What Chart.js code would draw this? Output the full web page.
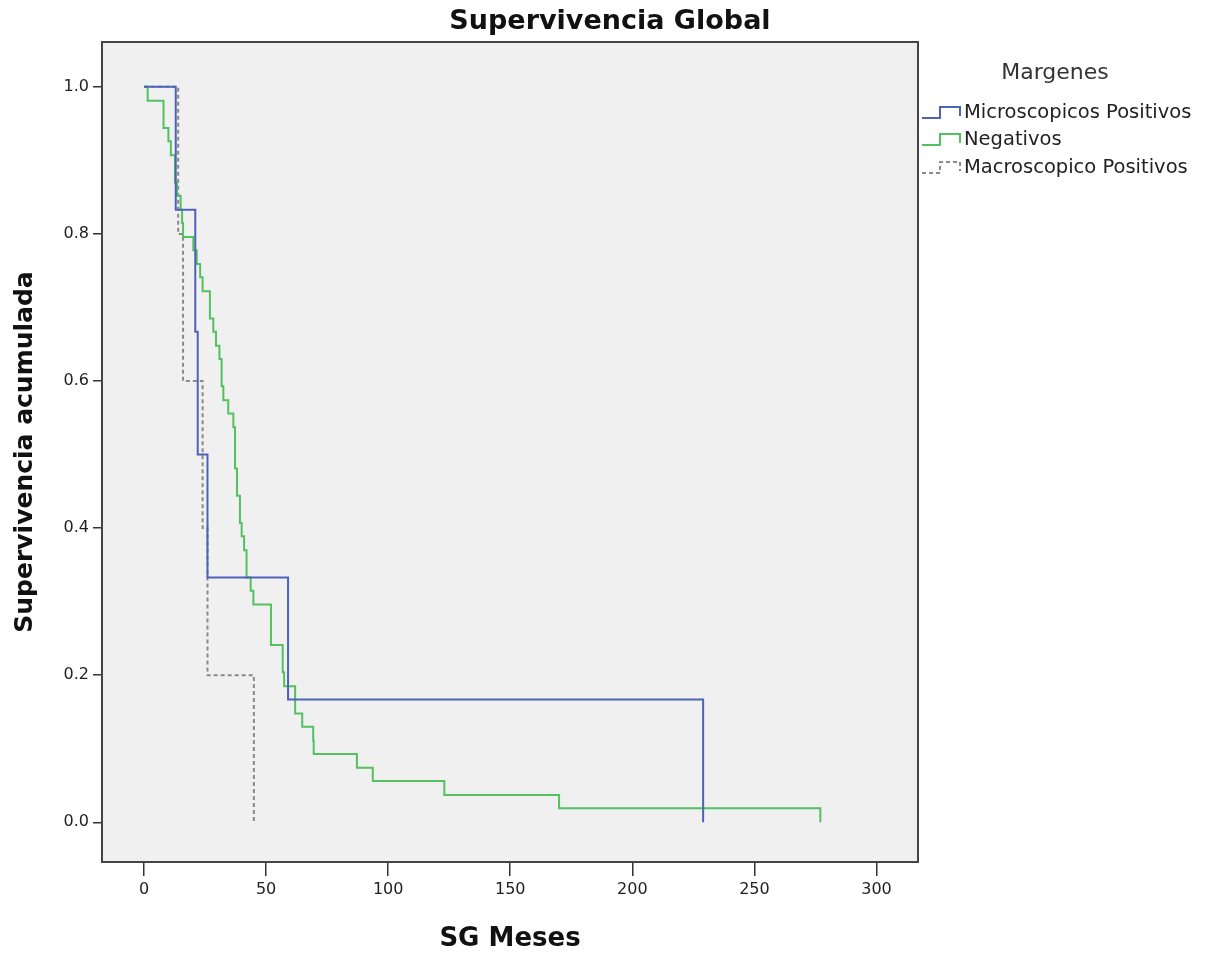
<!DOCTYPE html>
<html>
<head>
<meta charset="utf-8">
<script src="https://cdn.jsdelivr.net/npm/chart.js@4.4.1/dist/chart.umd.min.js"></script>
<style>
  html, body { margin: 0; padding: 0; background: #fff; }
  canvas { display: block; }
</style>
</head>
<body>
<canvas id="km" width="1212" height="957"></canvas>
<script>
// tiempos (meses) y supervivencia acumulada
const microTimes = [0, 13, 21, 22, 26, 59, 229];
const microSurv  = [1, 0.833, 0.667, 0.5, 0.333, 0.167, 0];

const negTimes = [0, 1.5, 8, 10, 11, 12.7, 13.5, 15, 15.6, 16, 20.2, 21.6, 23, 24, 27, 28.4, 29.5, 30.9,
    31.8, 32.5, 34.5, 36.6, 37.3, 38.1, 39.3, 40, 41, 42, 43.7, 44.8, 52, 56.8, 57.4, 61.9, 64.8,
    69.3, 69.5, 87.2, 93.7, 123, 170, 277];
const negSurv = [1, 0.981, 0.944, 0.926, 0.907, 0.870, 0.852, 0.833, 0.815, 0.796, 0.778, 0.759, 0.741,
    0.722, 0.685, 0.667, 0.648, 0.630, 0.593, 0.574, 0.556, 0.537, 0.481, 0.444, 0.407, 0.389, 0.370,
    0.333, 0.315, 0.296, 0.241, 0.204, 0.185, 0.148, 0.130, 0.111, 0.093, 0.074, 0.056, 0.037, 0.019, 0];

const macroTimes = [0, 14, 16, 24, 26, 45];
const macroSurv  = [1, 0.8, 0.6, 0.4, 0.2, 0];

const xTicks = [0, 50, 100, 150, 200, 250, 300];
const yTicks = [0, 0.2, 0.4, 0.6, 0.8, 1.0];

const seriesNames = ['Microscopicos Positivos', 'Negativos', 'Macroscopico Positivos'];
const seriesColors = ['#4d62b8', '#52c15e', '#8a8a8a'];
const seriesDash = [[], [], [4, 3]];

const FONT = 'DejaVu Sans';

const toPoints = (times, surv) => times.map((t, i) => ({ x: t, y: surv[i] }));

const plotFrame = {
    id: 'plotFrame',
    beforeDatasetsDraw(chart) {
        const { ctx, chartArea: a } = chart;
        ctx.save();
        ctx.fillStyle = '#f0f0f0';
        ctx.fillRect(a.left, a.top, a.right - a.left, a.bottom - a.top);
        ctx.restore();
    },
    afterDatasetsDraw(chart) {
        const { ctx, chartArea: a } = chart;
        ctx.save();
        ctx.strokeStyle = '#444';
        ctx.lineWidth = 2;
        ctx.strokeRect(a.left, a.top, a.right - a.left, a.bottom - a.top);
        ctx.restore();
    }
};

// titulo centrado en todo el lienzo y leyenda a la derecha
const sideLegend = {
    id: 'sideLegend',
    afterDraw(chart) {
        const ctx = chart.ctx;
        ctx.save();
        ctx.fillStyle = '#111';
        ctx.font = `bold 27px "${FONT}"`;
        ctx.textAlign = 'center';
        ctx.textBaseline = 'middle';
        ctx.fillText('Supervivencia Global', 610, 22);

        ctx.fillStyle = '#333';
        ctx.font = `22px "${FONT}"`;
        ctx.fillText('Margenes', 1055, 73);

        const rows = [113, 140, 168];
        ctx.textAlign = 'left';
        ctx.font = `19.5px "${FONT}"`;
        seriesNames.forEach((name, i) => {
            const y = rows[i];
            ctx.strokeStyle = seriesColors[i];
            ctx.lineWidth = 2;
            ctx.setLineDash(seriesDash[i]);
            ctx.beginPath();
            ctx.moveTo(922, y + 5);
            ctx.lineTo(940, y + 5);
            ctx.lineTo(940, y - 6);
            ctx.lineTo(960, y - 6);
            ctx.lineTo(960, y + 3);
            ctx.stroke();
            ctx.setLineDash([]);
            ctx.fillStyle = '#222';
            ctx.fillText(name, 964, y);
        });
        ctx.restore();
    }
};

const mkSet = (i, times, surv) => ({
    label: seriesNames[i],
    data: toPoints(times, surv),
    borderColor: seriesColors[i],
    borderWidth: 2,
    borderDash: seriesDash[i],
    stepped: 'before',
    pointRadius: 0,
    fill: false,
    tension: 0
});

new Chart(document.getElementById('km').getContext('2d'), {
    type: 'line',
    data: {
        datasets: [
            mkSet(0, microTimes, microSurv),
            mkSet(1, negTimes, negSurv),
            mkSet(2, macroTimes, macroSurv)
        ]
    },
    options: {
        responsive: false,
        animation: false,
        layout: { padding: { left: 4, right: 294, top: 42, bottom: 0 } },
        plugins: {
            legend: { display: false },
            tooltip: { enabled: false },
            title: { display: false }
        },
        scales: {
            x: {
                type: 'linear',
                min: -17.2,
                max: 317,
                afterBuildTicks: (s) => { s.ticks = xTicks.map(v => ({ value: v })); },
                afterFit: (s) => { s.height = 95; },
                grid: { drawOnChartArea: false, drawTicks: true, tickLength: 14, color: '#333', lineWidth: 1.5 },
                border: { display: false },
                ticks: {
                    color: '#222',
                    padding: 4,
                    maxRotation: 0,
                    font: { family: FONT, size: 16 },
                    callback: (v) => String(v)
                },
                title: {
                    display: true,
                    text: 'SG Meses',
                    color: '#111',
                    font: { family: FONT, size: 26, weight: 'bold' },
                    padding: { top: 0, bottom: 2 }
                }
            },
            y: {
                min: -0.054,
                max: 1.061,
                afterBuildTicks: (s) => { s.ticks = yTicks.map(v => ({ value: v })); },
                afterFit: (s) => { s.width = 98; },
                grid: { drawOnChartArea: false, drawTicks: true, tickLength: 9, color: '#333', lineWidth: 1.5 },
                border: { display: false },
                ticks: {
                    color: '#222',
                    padding: 4,
                    font: { family: FONT, size: 16 },
                    callback: (v) => Number(v).toFixed(1)
                },
                title: {
                    display: true,
                    text: 'Supervivencia acumulada',
                    color: '#111',
                    font: { family: FONT, size: 25, weight: 'bold' },
                    padding: { top: 6, bottom: 0 }
                }
            }
        }
    },
    plugins: [plotFrame, sideLegend]
});
</script>
</body>
</html>
